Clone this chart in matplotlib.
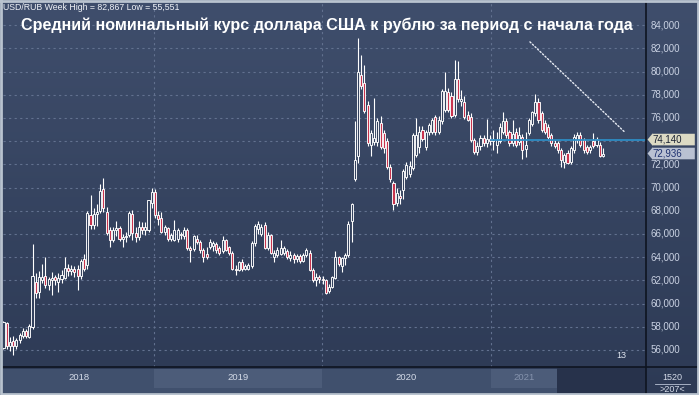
import numpy as np
import matplotlib
matplotlib.use("Agg")
import matplotlib.pyplot as plt
from matplotlib.colors import LinearSegmentedColormap

plt.rcParams['font.family'] = ['Liberation Sans', 'DejaVu Sans']

# weekly USD/RUB candles, first one = week of 5 Feb 2018
opens = [56.2, 58.3, 56.3, 56.8, 56.3, 56.9, 57.2, 57.6, 57.1, 58.0,
         61.9, 61.0, 62.0, 62.4, 61.6, 62.0, 62.3, 61.9, 62.1, 62.2,
         63.1, 62.8, 63.0, 63.0, 62.4, 63.8, 63.3, 67.6, 66.8, 67.7,
         68.0, 69.9, 67.9, 66.3, 65.5, 66.3, 66.5, 65.6, 65.7, 65.9,
         67.7, 66.1, 65.7, 66.6, 66.3, 66.3, 68.7, 69.6, 67.6, 67.35,
         66.2, 66.5, 65.6, 65.5, 65.6, 65.9, 65.8, 66.3, 64.8, 64.7,
         65.6, 65.3, 64.6, 64.3, 64.9, 65.0, 65.1, 64.8, 64.5, 65.5,
         64.9, 64.4, 63.0, 62.9, 63.6, 63.0, 63.0, 63.2, 65.2, 66.4,
         66.0, 66.8, 64.8, 65.9, 64.0, 64.2, 64.3, 64.4, 64.5, 63.9,
         64.2, 63.8, 64.1, 63.7, 64.2, 64.4, 62.9, 62.0, 62.3, 62.1,
         62.0, 61.1, 61.4, 62.2, 64.0, 63.2, 63.9, 64.2, 67.1, 70.7,
         72.7, 79.7, 79.0, 77.1, 73.7, 73.9, 73.9, 75.6, 74.7, 74.0,
         71.8, 70.4, 68.7, 69.3, 69.8, 70.9, 71.2, 71.7, 72.8, 73.5,
         74.97, 73.5, 74.8, 74.8, 76.1, 74.8, 75.7, 76.7, 78.2, 77.9,
         76.3, 79.4, 77.5, 77.4, 76.3, 76.1, 74.1, 73.1, 73.6, 74.3,
         73.8, 74.2, 74.0, 73.7, 74.0, 74.8, 75.7, 74.8, 73.8, 74.8,
         73.9, 74.4, 73.3, 74.7, 75.5, 76.4, 77.4, 76.4, 75.6, 75.25,
         74.5, 73.8, 73.8, 73.2, 72.2, 72.95, 72.2, 73.2, 74.1, 74.5,
         74.1, 73.5, 73.2, 74.0, 73.7, 73.7, 72.7]
highs = [58.5, 58.4, 57.1, 57.2, 57.0, 57.5, 57.9, 57.8, 58.2, 65.1,
         62.6, 62.8, 63.4, 64.0, 62.3, 62.7, 62.5, 62.6, 62.9, 64.0,
         63.4, 63.3, 63.2, 63.3, 63.8, 64.3, 68.0, 69.4, 68.2, 68.6,
         70.3, 70.8, 68.3, 66.6, 66.6, 67.1, 66.7, 66.0, 66.2, 68.0,
         68.1, 66.6, 67.1, 67.0, 67.0, 68.9, 70.0, 69.9, 68.0, 67.9,
         66.8, 66.6, 66.1, 67.2, 66.5, 66.2, 66.6, 66.5, 65.0, 65.9,
         65.9, 65.5, 64.8, 64.9, 65.6, 65.4, 65.3, 65.0, 65.8, 65.6,
         65.0, 64.5, 63.3, 63.7, 63.8, 63.4, 63.5, 65.4, 66.9, 67.15,
         66.9, 67.0, 66.2, 66.0, 64.6, 64.9, 65.5, 65.0, 64.7, 64.5,
         64.4, 64.3, 64.3, 64.4, 64.8, 64.6, 63.1, 62.6, 62.5, 62.4,
         62.1, 61.7, 62.4, 64.5, 64.1, 64.0, 64.4, 67.1, 68.7, 75.7,
         82.867, 81.4, 80.6, 77.5, 75.0, 77.7, 76.0, 76.2, 75.0, 74.3,
         72.0, 70.6, 70.0, 69.8, 71.6, 72.2, 72.3, 74.7, 76.0, 75.3,
         75.3, 75.0, 75.6, 76.0, 76.3, 76.2, 78.5, 80.0, 78.6, 78.2,
         81.0, 80.9, 78.4, 77.9, 76.6, 76.4, 74.3, 73.9, 74.5, 74.5,
         75.9, 74.5, 75.0, 74.8, 75.6, 76.5, 76.0, 75.0, 75.8, 75.1,
         75.2, 74.6, 74.8, 76.0, 76.6, 78.1, 77.7, 76.6, 75.8, 75.5,
         74.7, 74.1, 74.0, 73.4, 73.0, 73.2, 73.6, 74.6, 74.8, 74.8,
         74.3, 73.7, 73.7, 74.7, 74.4, 73.9, 73.4]
lows = [56.1, 56.1, 55.9, 55.551, 56.1, 56.6, 57.0, 57.0, 57.0, 57.8,
        60.5, 60.5, 61.8, 61.3, 61.2, 60.7, 61.6, 61.0, 61.8, 62.1,
        62.4, 62.5, 62.3, 61.2, 62.1, 62.8, 63.0, 66.4, 66.4, 66.7,
        67.8, 67.9, 65.9, 64.9, 65.3, 65.8, 65.4, 64.9, 65.3, 65.7,
        65.5, 65.3, 65.5, 66.0, 65.9, 66.2, 68.2, 67.4, 66.8, 66.1,
        65.9, 65.4, 65.4, 65.4, 65.3, 65.6, 65.6, 64.6, 63.6, 64.5,
        65.1, 64.4, 63.6, 63.8, 64.7, 64.5, 64.4, 64.2, 64.4, 64.5,
        64.2, 62.9, 62.5, 62.8, 62.8, 62.9, 62.9, 63.1, 65.0, 66.0,
        65.8, 64.7, 64.6, 64.3, 63.6, 64.0, 64.2, 64.2, 63.8, 63.7,
        63.5, 63.6, 63.5, 63.6, 64.0, 62.8, 61.9, 61.5, 61.8, 61.7,
        60.85, 60.9, 61.3, 62.1, 63.2, 62.75, 63.3, 64.0, 65.3, 70.6,
        72.1, 78.5, 76.4, 73.6, 72.7, 73.7, 73.6, 73.3, 73.0, 71.6,
        70.5, 68.1, 68.4, 68.6, 69.0, 70.7, 70.9, 71.5, 72.6, 73.0,
        74.0, 73.2, 74.5, 74.6, 74.5, 74.6, 75.5, 76.5, 76.5, 76.0,
        76.1, 77.4, 77.0, 75.9, 75.7, 73.9, 72.9, 72.8, 73.2, 73.6,
        73.5, 73.7, 73.2, 73.0, 73.8, 74.6, 74.3, 73.6, 73.6, 73.5,
        73.7, 72.5, 72.6, 74.5, 75.3, 76.2, 75.6, 74.8, 74.6, 74.2,
        73.6, 73.4, 73.0, 71.75, 71.7, 72.0, 72.0, 73.0, 73.8, 73.5,
        73.0, 72.9, 73.0, 73.4, 73.5, 72.6, 72.6]
closes = [58.4, 56.3, 56.7, 56.3, 56.9, 57.3, 57.6, 57.2, 58.1, 62.4,
          60.9, 62.3, 62.3, 61.6, 62.1, 62.2, 62.0, 62.2, 62.5, 63.1,
          62.8, 63.0, 62.7, 62.4, 63.7, 63.0, 67.8, 66.8, 67.7, 67.9,
          69.7, 68.2, 66.1, 65.5, 66.3, 66.5, 65.6, 65.7, 65.8, 67.8,
          66.1, 65.7, 66.6, 66.3, 66.6, 68.9, 69.6, 67.6, 67.3, 66.2,
          66.6, 65.6, 65.9, 66.3, 66.3, 66.0, 66.3, 64.8, 64.6, 65.8,
          65.3, 64.6, 64.0, 64.0, 65.3, 65.2, 64.6, 64.4, 65.5, 64.6,
          64.4, 63.0, 62.9, 63.6, 63.0, 63.2, 63.3, 65.25, 66.7, 66.9,
          66.6, 64.8, 65.9, 64.4, 64.4, 64.6, 64.8, 64.8, 64.0, 64.2,
          63.8, 64.1, 63.7, 64.2, 64.6, 62.9, 62.0, 62.3, 62.1, 62.0,
          60.9, 61.4, 62.3, 64.0, 63.4, 63.9, 64.2, 66.9, 68.6, 72.4,
          80.0, 78.8, 76.6, 73.8, 74.7, 74.3, 75.7, 73.5, 73.4, 71.8,
          70.7, 68.6, 69.5, 69.1, 71.4, 71.95, 71.9, 74.5, 74.5, 74.8,
          74.2, 74.8, 75.4, 75.8, 74.8, 75.8, 78.3, 78.3, 76.7, 76.2,
          79.4, 77.6, 77.6, 76.1, 75.8, 74.1, 73.1, 73.6, 74.3, 73.8,
          74.2, 74.0, 74.2, 74.2, 75.25, 75.7, 74.5, 73.8, 74.6, 73.7,
          74.5, 73.2, 73.7, 75.8, 76.5, 77.4, 75.8, 75.0, 74.8, 74.4,
          73.8, 73.6, 73.2, 72.4, 72.8, 72.1, 73.4, 74.4, 74.5, 73.7,
          73.2, 73.1, 73.5, 73.6, 74.2, 72.7, 72.936]

year_labels = ['2018', '2019', '2020', '2021']
year_starts = [46.79, 98.93, 151.2]      # candle index where Jan 1 falls
price_ticks = list(range(56, 86, 2))
avg_ytd = 74.140
title = 'Средний номинальный курс доллара США к рублю за период с начала года'

W, H = 699, 395
BG = '#3a4865'
UP_FILL = '#34425e'
DOWN_FILL = '#c8344e'

def fx(p):
    return p / W

def fy(p):
    return 1 - p / H

fig = plt.figure(figsize=(W / 100, H / 100), dpi=100)
fig.patch.set_facecolor(BG)

# background gradient
bg = fig.add_axes([0, 0, 1, 1], zorder=0)
bg.axis('off')
grad = LinearSegmentedColormap.from_list('g', ['#2d3a55', '#3f4e6c'])
bg.imshow(np.linspace(0, 1, 256).reshape(-1, 1)[::-1], aspect='auto', cmap=grad,
          extent=[0, 1, 0, 1], transform=bg.transAxes)

x0, x1 = -0.155, 199.2
y0, y1 = 54.53, 86.0

ax = fig.add_axes([fx(3), fy(367), fx(642.5), 365 / H], zorder=2)
ax.patch.set_alpha(0)
ax.set_xlim(x0, x1)
ax.set_ylim(y0, y1)
for s in ax.spines.values():
    s.set_visible(False)
ax.set_xticks([])
ax.set_yticks([])

grid_kw = dict(color='#62718f', lw=0.8, ls=(0, (2, 3)), zorder=1)
for v in price_ticks:
    ax.axhline(v, **grid_kw)
for xs in year_starts:
    ax.axvline(xs, **grid_kw)

idx = np.arange(len(closes))
o = np.array(opens)
c = np.array(closes)
ax.vlines(idx, lows, highs, color='white', lw=0.8, zorder=3)
up = c >= o
ax.bar(idx[up], (c - o)[up], bottom=o[up], width=0.64, facecolor=UP_FILL,
       edgecolor='white', lw=0.65, zorder=4)
ax.bar(idx[~up], (o - c)[~up], bottom=c[~up], width=0.64, facecolor=DOWN_FILL,
       edgecolor='white', lw=0.65, zorder=4)

# average since start of year
ax.plot([year_starts[-1], x1], [avg_ytd, avg_ytd], color='#2e8cc4', lw=1.3, zorder=5)

# dotted pointer to the average tag
ax.annotate('', xy=(0.971, 0.638), xytext=(0.817, 0.896), xycoords='axes fraction',
            arrowprops=dict(arrowstyle='-', color='#e8ecf4', lw=1.0, ls=(0, (1, 1.5))))

ax.text(0.955, 0.018, '13', transform=ax.transAxes, color='#e0e6f0', fontsize=6.5,
        ha='left', va='bottom')

# right price scale
axr = fig.add_axes([fx(646.5), fy(367), fx(52.5), 365 / H], zorder=2)
axr.patch.set_alpha(0)
axr.set_ylim(y0, y1)
axr.set_xlim(0, 1)
axr.axis('off')
for v in price_ticks:
    if abs(v - avg_ytd) < 0.8:
        continue  # hidden behind the average tag
    axr.text(0.08, v, f'{v:.3f}'.replace('.', ','), color='#c9d1e2', fontsize=7,
             ha='left', va='center')

def price_tag(v, face, tc):
    axr.fill([0.02, 0.12, 0.12, 0.92, 0.92, 0.12, 0.12],
             [v, v + 0.55, v + 0.5, v + 0.5, v - 0.5, v - 0.5, v - 0.55],
             facecolor=face, edgecolor='none', zorder=3)
    axr.text(0.12, v, f'{v:.3f}'.replace('.', ','), color=tc, fontsize=7,
             ha='left', va='center', zorder=4)

price_tag(avg_ytd, '#dcdac4', '#1c2333')
price_tag(closes[-1], '#b9c1d2', '#1f3270')

# bottom time scale
axb = fig.add_axes([fx(3), fy(393), fx(642.5), 26 / H], zorder=2, sharex=ax)
axb.patch.set_alpha(0)
axb.set_ylim(0, 1)
axb.axis('off')
edges = [x0] + year_starts + [x1]
band_cols = ['#40506d', '#4c5c79', '#40506d', '#4c5c79']
for k, lab in enumerate(year_labels):
    a, b = edges[k], edges[k + 1]
    if k == 3:
        b = 171.6
    axb.axvspan(a, b, 0.2, 0.92, color=band_cols[k], lw=0, zorder=1)
    axb.text((a + b) / 2, 0.58, lab, color='#d4dbe8' if k < 3 else '#8593ad',
             fontsize=6.8, ha='center', va='center', zorder=3)
axb.axvspan(171.6, x1, 0, 1, color='#27324b', lw=0, zorder=2)
axb.axvspan(x0, 171.6, 0, 0.2, color='#40506d', lw=0, zorder=1)

# bottom right corner box
fig.text(fx(672), fy(377), '1520', color='#d4dbe8', fontsize=6.5, ha='center', va='center')
fig.text(fx(672), fy(389), '>207<', color='#d4dbe8', fontsize=6.5, ha='center', va='center')

# separators and frame
top = fig.add_axes([0, 0, 1, 1], zorder=6)
top.set_xlim(0, W)
top.set_ylim(H, 0)
top.axis('off')
top.plot([646, 646], [0, 394], color='#0e1420', lw=1.2)
top.plot([2, 697], [367, 367], color='#0e1420', lw=1.2)
top.plot([655, 690], [384, 384], color='#b8c2d4', lw=0.6)
top.plot([1, 1, 698, 698, 1], [0.5, 394, 394, 0.5, 0.5], color='#b9c3cf', lw=2)

fig.text(fx(3), fy(7), 'USD/RUB Week High = 82,867 Low = 55,551', color='#f0f3f8',
         fontsize=6.3, ha='left', va='center')
fig.text(fx(327), fy(25), title, color='white', fontsize=11.6, fontweight='bold',
         ha='center', va='center')

fig.savefig('out.png', dpi=100, facecolor=fig.get_facecolor())
